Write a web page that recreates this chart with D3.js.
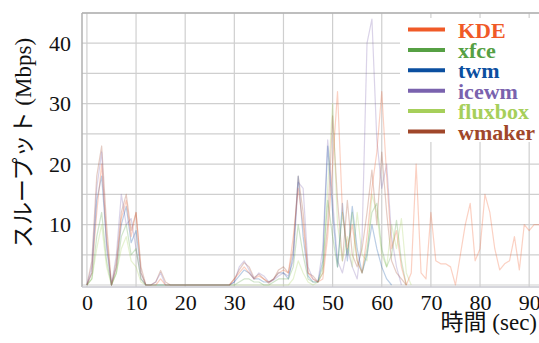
<!DOCTYPE html>
<html><head><meta charset="utf-8">
<script src="https://cdn.jsdelivr.net/npm/d3@7/dist/d3.min.js"></script>
<style>body{margin:0;background:#fff}svg{display:block}</style>
</head><body>
<svg id="c" width="539" height="343"></svg>
<script>
const seconds = d3.range(0, 93);
const xTicks = [0, 10, 20, 30, 40, 50, 60, 70, 80, 90];
const yTicks = [10, 20, 30, 40];
const seriesNames = ["KDE", "xfce", "twm", "icewm", "fluxbox", "wmaker"];
const seriesColors = ["#f05a28", "#56a044", "#0b4fa0", "#7a62ae", "#a6cf5a", "#a0472a"];

const kde = [0,2,12,20,8,0,3,11,14,8, 12,2,0,0,0,1,0,0,0,0, 0,0,0,0,0,0,0,0,0,0,
  1,2,3,2,1,1.5,1,0.5,1,2, 2.5,2,8,16,10,2,1,0.5,1,8, 20,32,12,6,10,4,2,8,16,22,
  32,18,6,9,3,0,2,20,2,1, 12,4,3.5,3.5,3,0,5,10,13.5,4, 6,15,12,6,2.5,3.5,4,8,2.5,10, 9,10,10];
const xfce = [0,1,8,12,4,0,2,8,10,5, 6,1,0,0,0,0,0,0,0,0, 0,0,0,0,0,0,0,0,0,0,
  0,0.5,1,1,0.5,0.5,0,0,0.5,1, 1,1,3,10,5,1,0.5,0.5,3,14, 8,3,12,5,12,4,2,6,12,13.5,
  6,3,5,10.7,4,0];
const twm = [0,2,14,18,7,0,3,10,13,7, 9,2,0,0,0,0,0,0,0,0, 0,0,0,0,0,0,0,0,0,0,
  0.5,1.5,2.5,2,1,1,0.5,0.5,1,2, 2,1,5,18,8,1.5,0.5,0.5,4,23, 12,3,13.5,4,13,6,2,5,10,6,
  3,1,0];
const icewm = [0,3,16,22,6,0,5,15,10,11, 6,1,0,0,0.5,2,0,0,0,0, 0,0,0,0,0,0,0,0,0,0,
  0.5,3,4,2.5,1,2,1.5,0.5,0.8,1.5, 2,1.5,4,17,16,3,1,0.5,6,24, 14,4,2,6,3,1,8,40,44,24,
  16,20,8,3,0];
const fluxbox = [0,1,6,10,3,0,2,6,8,4, 3,0.5,0,0,0,0,0,0,0,0, 0,0,0,0,0,0,0,0,0,0,
  0,0,0,0,0,0,0,0,0,0, 0,0,1,4,2,0.5,0,0.5,2,16, 30,10,4,8,3,12,5,4,15,12,
  5,3,10,6,11,2,0];
const wmaker = [0,4,18,23,10,0,4,12,15,9, 12,3,0,0,0.5,2.4,0.5,0,0,0, 0,0,0,0,0,0,0,0,0,0,
  1,2.5,3.7,3,1.2,1.8,1,0.3,1,2.5, 3,2,6,18,12,2,1.5,0.5,2,10, 28,14,4,14,5,3,6,12,19,10,
  22,12,4,2,1,0];
const seriesValues = [kde, xfce, twm, icewm, fluxbox, wmaker];

const svg = d3.select("#c").attr("font-family", "Liberation Serif");
const L = 82, R = 539, T = 13, B = 285;
const x = d3.scaleLinear().domain([-1, 92]).range([L, R]);
const y = d3.scaleLinear().domain([0, 45]).range([B, T]);

const g = svg.append("g");
g.selectAll("line.h").data(d3.range(0, 46, 5)).join("line")
  .attr("x1", L).attr("x2", R).attr("y1", d => y(d)).attr("y2", d => y(d))
  .attr("stroke", "#cfcfcf").attr("stroke-width", 1.2);
g.selectAll("line.v").data(xTicks).join("line")
  .attr("y1", T).attr("y2", B + 2).attr("x1", d => x(d)).attr("x2", d => x(d))
  .attr("stroke", "#cfcfcf").attr("stroke-width", 1.2);
svg.append("line").attr("x1", L).attr("x2", L).attr("y1", T).attr("y2", B + 2).attr("stroke", "#b0b0b0").attr("stroke-width", 1.5);
svg.append("line").attr("x1", L).attr("x2", R).attr("y1", T).attr("y2", T).attr("stroke", "#b0b0b0").attr("stroke-width", 1.5);
svg.append("line").attr("x1", L).attr("x2", R).attr("y1", B + 2).attr("y2", B + 2).attr("stroke", "#c8c8d0").attr("stroke-width", 1.5);

const line = d3.line().x((d, i) => x(seconds[i])).y(d => y(d));
[5, 4, 3, 2, 1, 0].forEach(k => {
  svg.append("path").datum(seriesValues[k])
    .attr("d", line).attr("fill", "none")
    .attr("stroke", seriesColors[k]).attr("stroke-width", 1.2)
    .attr("stroke-opacity", 0.28).attr("stroke-linejoin", "round");
});

const xAxis = svg.append("g").attr("transform", `translate(0,${B + 2})`)
  .call(d3.axisBottom(x).tickValues(xTicks).tickSize(0).tickPadding(7));
xAxis.select(".domain").remove();
xAxis.attr("font-family", "Liberation Serif").attr("font-size", 22);
xAxis.selectAll("text").attr("fill", "#111");
const yAxis = svg.append("g").attr("transform", `translate(${L},0)`)
  .call(d3.axisLeft(y).tickValues(yTicks).tickSize(0).tickPadding(11));
yAxis.select(".domain").remove();
yAxis.attr("font-family", "Liberation Serif").attr("font-size", 22);
yAxis.selectAll("text").attr("fill", "#111");

svg.append("text").attr("x", 537).attr("y", 330).attr("text-anchor", "end")
  .attr("font-family", "Liberation Serif, Noto Sans CJK JP").attr("font-size", 23).attr("fill", "#111")
  .text("時間 (sec)");
svg.append("text").attr("transform", "translate(31,143) rotate(-90)").attr("text-anchor", "middle")
  .attr("font-family", "Liberation Serif, Noto Sans CJK JP").attr("font-size", 23).attr("fill", "#111")
  .text("スループット (Mbps)");

svg.append("rect").attr("x", 400).attr("y", 18).attr("width", 139).attr("height", 124).attr("fill", "#fff");
seriesNames.forEach((n, i) => {
  const cy = 29.5 + i * 20.4;
  svg.append("line").attr("x1", 408).attr("x2", 445).attr("y1", cy).attr("y2", cy)
    .attr("stroke", seriesColors[i]).attr("stroke-width", 4);
  svg.append("text").attr("x", 458).attr("y", cy + 8)
    .attr("font-family", "Liberation Serif").attr("font-weight", "bold").attr("font-size", 22)
    .attr("fill", seriesColors[i]).text(n);
});
</script>
</body></html>
